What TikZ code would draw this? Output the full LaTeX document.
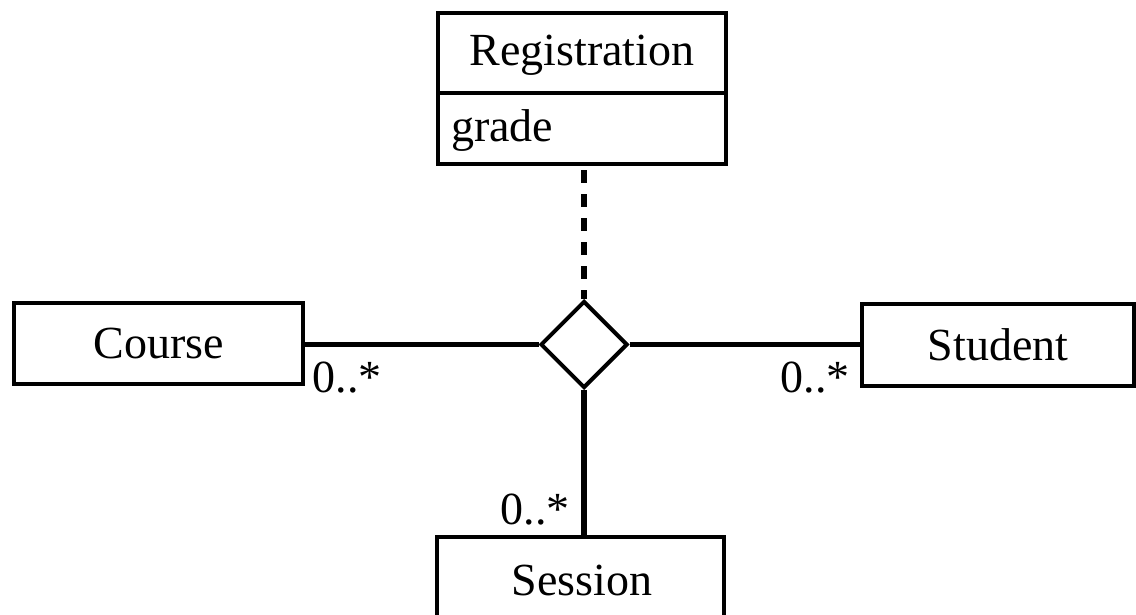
\documentclass[tikz,border=0pt]{standalone}
\usepackage{fontspec}
\setmainfont{Liberation Serif}
\usetikzlibrary{shapes.geometric}
\begin{document}
\begin{tikzpicture}[x=1pt,y=-1pt,
  cls/.style={draw,line width=4.2pt,rectangle,inner sep=0pt,font=\fontsize{46}{50}\selectfont},
  conn/.style={line width=5.5pt},
  mult/.style={font=\fontsize{46}{50}\selectfont,inner sep=0pt},
  txt/.style={font=\fontsize{46}{50}\selectfont,inner sep=0pt}]
\useasboundingbox (0,0) rectangle (1136,615);
% Registration class
\node[cls,minimum width=288pt,minimum height=151pt] (reg) at (582,88.5) {};
\coordinate (regdivL) at (438,93);
\coordinate (regdivR) at (726,93);
\draw[line width=4.2pt] (regdivL) -- (regdivR);
\node[txt] (regname) at (582,55) {Registration};
\node[txt,anchor=base west] (grade) at (451,142) {grade};
% other classes
\node[cls,minimum width=289pt,minimum height=81pt] (course) at (158.5,343.5) {Course};
\node[cls,minimum width=272pt,minimum height=82pt] (student) at (998,345) {Student};
\node[cls,minimum width=287pt,minimum height=100pt] (session) at (580.5,587) {};
\node[txt] (sessname) at (582,580) {Session};
% diamond
\node[draw,diamond,line width=4pt,minimum width=87pt,minimum height=87pt,inner sep=0pt,aspect=1] (dia) at (584,344.5) {};
% connectors
\draw[conn] (course.east |- dia.west) -- (dia.west);
\draw[conn] (dia.east) -- (student.west |- dia.east);
\draw[conn] (dia.south) -- (dia.south |- session.north);
\draw[line width=5.5pt,dash pattern=on 13pt off 11pt,dash phase=-4pt] (reg.south -| dia.north) -- (dia.north);
% multiplicities
\node[mult] (m1) at (347,378) {0..*};
\node[mult] (m2) at (815,378) {0..*};
\node[mult] (m3) at (535,510) {0..*};
\end{tikzpicture}
\end{document}
